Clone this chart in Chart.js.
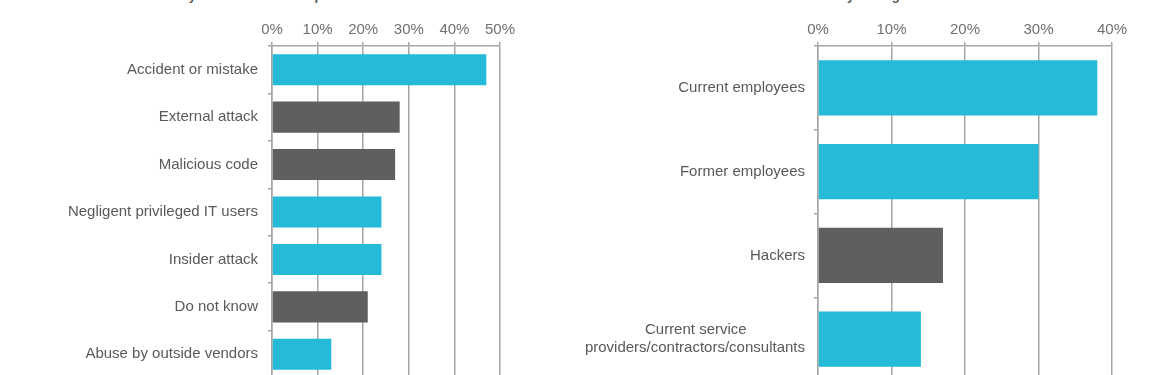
<!DOCTYPE html>
<html><head><meta charset="utf-8">
<script src="https://cdn.jsdelivr.net/npm/chart.js@4.4.1/dist/chart.umd.min.js"></script>
<style>
html,body{margin:0;padding:0;background:#fff;overflow:hidden;width:1175px;height:375px;position:relative;}
#c1{position:absolute;left:0;top:0;}
#c2{position:absolute;left:560px;top:0;}
.ttl{position:absolute;font:bold 13px "Liberation Sans",Arial,sans-serif;color:#595959;white-space:nowrap;line-height:13px;transform:translateX(-50%);}
</style></head><body>
<div class="ttl" id="t1" style="left:282px;top:-11px"></div>
<div class="ttl" id="t2" style="left:898px;top:-11px"></div>
<canvas id="c1" width="560" height="397"></canvas>
<canvas id="c2" width="615" height="399"></canvas>
<script>
const leftTitle = "security breaches over the past 12 months?";
const leftCategories = ["Accident or mistake","External attack","Malicious code","Negligent privileged IT users","Insider attack","Do not know","Abuse by outside vendors"];
const leftValues = [47,28,27,24,24,21,13];
const leftHighlight = [true,false,false,true,true,false,true];
const leftTicks = [0,10,20,30,40,50];

const rightTitle = "in your organization?";
const rightCategories = ["Current employees","Former employees","Hackers",["Current service","providers/contractors/consultants"]];
const rightValues = [38,30,17,14];
const rightHighlight = [true,true,false,true];
const rightTicks = [0,10,20,30,40];

document.getElementById('t1').textContent = leftTitle;
document.getElementById('t2').textContent = rightTitle;

const CYAN = '#25BAD7';
const DARK = '#5E5F61';
const GRID = '#A6A6A6';
const FONT = '"Liberation Sans", Arial, sans-serif';

const mctx = document.createElement('canvas').getContext('2d');
mctx.font = '15px ' + FONT;
function centerLines(lbl){
  if(!Array.isArray(lbl)) return lbl;
  const widths = lbl.map(s => mctx.measureText(s).width);
  const maxW = Math.max(...widths);
  const sp = mctx.measureText('\u00a0').width;
  return lbl.map((s,i) => s + '\u00a0'.repeat(Math.round((maxW - widths[i]) / 2 / sp)));
}

function make(id, cats, vals, hl, ticks, axisWidth, labelPad, padRight, barPct){
  return new Chart(document.getElementById(id), {
    type: 'bar',
    data: {
      labels: cats,
      datasets: [{
        data: vals,
        backgroundColor: hl.map(h => h ? CYAN : DARK),
        borderWidth: 0,
        barPercentage: barPct,
        categoryPercentage: 1
      }]
    },
    options: {
      indexAxis: 'y',
      responsive: false,
      animation: false,
      devicePixelRatio: 1,
      layout: { padding: { top: 18, right: padRight, left: 0, bottom: 0 } },
      plugins: { legend: { display: false }, title: { display: false }, tooltip: { enabled: false } },
      scales: {
        x: {
          type: 'linear',
          position: 'top',
          min: ticks[0],
          max: ticks[ticks.length - 1],
          afterBuildTicks: s => { s.ticks = ticks.map(v => ({ value: v })); },
          ticks: {
            callback: v => v + '%',
            font: { family: FONT, size: 15 },
            color: '#707070',
            padding: 3,
            maxRotation: 0
          },
          grid: { color: GRID, lineWidth: 1.5, tickLength: 4, drawTicks: true },
          border: { display: true, color: GRID, width: 1.5 }
        },
        y: {
          type: 'category',
          position: 'left',
          offset: true,
          afterFit: s => { s.width = axisWidth; },
          ticks: {
            autoSkip: false,
            font: { family: FONT, size: 15 },
            color: '#595959',
            padding: labelPad,
            callback: function(value){ return centerLines(this.getLabelForValue(value)); }
          },
          grid: { offset: true, drawOnChartArea: false, drawTicks: true, tickLength: 4, color: GRID, lineWidth: 1.5 },
          border: { display: true, color: GRID, width: 1.5 }
        }
      }
    }
  });
}

make('c1', leftCategories, leftValues, leftHighlight, leftTicks, 272, 10, 60, 0.655);
make('c2', rightCategories, rightValues, rightHighlight, rightTicks, 258, 9, 63, 0.66);
</script>
</body></html>
